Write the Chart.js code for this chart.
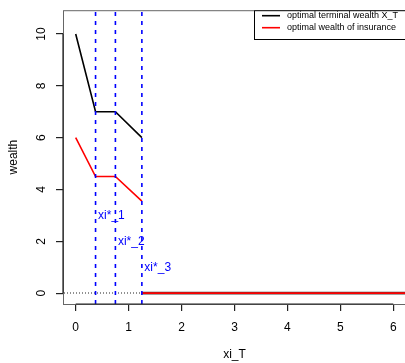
<!DOCTYPE html>
<html><head><meta charset="utf-8">
<script src="https://cdn.jsdelivr.net/npm/chart.js@4"></script>
<style>
html,body{margin:0;padding:0;overflow:hidden;background:#fff;width:405px;height:363px}
#wrap{position:relative;width:408px;height:363px}
canvas{display:block}
</style></head>
<body><div id="wrap"><canvas id="c" width="408" height="363"></canvas></div>
<script>
// ---- data ----
const xiBreaks = [0.375, 0.75, 1.25];
const breakLabels = ['xi*_1', 'xi*_2', 'xi*_3'];
const breakLabelY = [3, 2, 1];
const xiPoints = [0, 0.375, 0.75, 1.25];
const terminalWealth = [10, 7, 7, 6];
const insuranceWealth = [6, 4.5, 4.5, 3.55];
const zeroX = [1.25, 6.24];
const zeroWealth = [0, 0];
const hLineValue = 0;
const xTicks = [0, 1, 2, 3, 4, 5, 6];
const yTicks = [0, 2, 4, 6, 8, 10];
const seriesNames = ['optimal terminal wealth X_T', 'optimal wealth of insurance'];
const seriesColors = ['#000000', '#ff0000'];
const xTitle = 'xi_T';
const yTitle = 'wealth';
const xRange = [-0.24, 6.24];
const yRange = [-0.42, 10.92];

const FONT = '"Liberation Sans", Arial, Helvetica, sans-serif';
const pts = (xs, ys) => xs.map((x, i) => ({x: x, y: ys[i]}));

const datasets = [];
// red series
datasets.push({label: seriesNames[1], data: pts(xiPoints, insuranceWealth),
  borderColor: seriesColors[1], borderWidth: 1.6, pointRadius: 0, order: 1});
datasets.push({data: pts(zeroX, zeroWealth),
  borderColor: seriesColors[1], borderWidth: 1.8, pointRadius: 0, order: 1});
// black series
datasets.push({label: seriesNames[0], data: pts(xiPoints, terminalWealth),
  borderColor: seriesColors[0], borderWidth: 1.6, pointRadius: 0, order: 2});
datasets.push({data: pts(zeroX, zeroWealth),
  borderColor: '#444', borderWidth: 2.6, pointRadius: 0, order: 2});

const decor = {
  id: 'decor',
  beforeDatasetsDraw(chart) {
    // dotted horizontal reference line (drawn as dots)
    const ctx = chart.ctx, a = chart.chartArea;
    const ys = chart.scales.y;
    const py = Math.round(ys.getPixelForValue(hLineValue));
    ctx.save();
    ctx.fillStyle = '#222';
    for (let x = a.left + 1; x < a.right; x += 3) ctx.fillRect(x, py - 0.5, 1, 1);
    ctx.restore();
  },
  afterDatasetsDraw(chart) {
    const ctx = chart.ctx, a = chart.chartArea;
    const xs = chart.scales.x;
    ctx.save();
    ctx.fillStyle = '#0000ff';
    xiBreaks.forEach(b => {
      const px = xs.getPixelForValue(b);
      for (let y = a.bottom; y > a.top; y -= 9) {
        const top = Math.max(a.top, y - 4);
        ctx.fillRect(px - 0.8, top, 1.6, y - top);
      }
    });
    ctx.restore();
  },
  afterDraw(chart) {
    const ctx = chart.ctx, a = chart.chartArea;
    const xs = chart.scales.x, ys = chart.scales.y;
    ctx.save();
    // box
    ctx.strokeStyle = '#666'; ctx.lineWidth = 1;
    ctx.strokeRect(a.left + 0.5, a.top + 0.5, a.right - a.left - 1, a.bottom - a.top);
    // axis lines between first and last tick
    ctx.strokeStyle = '#222'; ctx.lineWidth = 1.2;
    ctx.beginPath();
    ctx.moveTo(xs.getPixelForValue(xTicks[0]), a.bottom);
    ctx.lineTo(xs.getPixelForValue(xTicks[xTicks.length - 1]), a.bottom);
    ctx.moveTo(a.left, ys.getPixelForValue(yTicks[0]));
    ctx.lineTo(a.left, ys.getPixelForValue(yTicks[yTicks.length - 1]));
    ctx.stroke();
    // y tick labels, rotated
    ctx.fillStyle = '#000';
    ctx.font = '12px ' + FONT;
    ctx.textAlign = 'center'; ctx.textBaseline = 'middle';
    yTicks.forEach(v => {
      ctx.save();
      ctx.translate(41.5, ys.getPixelForValue(v));
      ctx.rotate(-Math.PI / 2);
      ctx.fillText(String(v), 0, 0);
      ctx.restore();
    });
    // axis titles
    ctx.fillText(xTitle, (a.left + a.right) / 2, 355);
    ctx.save();
    ctx.translate(14, (a.top + a.bottom) / 2);
    ctx.rotate(-Math.PI / 2);
    ctx.fillText(yTitle, 0, 0);
    ctx.restore();
    // break labels
    ctx.fillStyle = '#0000ff';
    ctx.textAlign = 'left';
    xiBreaks.forEach((b, i) => {
      ctx.fillText(breakLabels[i], xs.getPixelForValue(b) + 2.5, ys.getPixelForValue(breakLabelY[i]));
    });
    // legend
    const lx = 254, ly = a.top, lr = a.right, lb = 39;
    ctx.fillStyle = '#fff';
    ctx.fillRect(lx, ly, lr - lx, lb - ly);
    ctx.strokeStyle = '#000'; ctx.lineWidth = 1;
    ctx.strokeRect(lx + 0.5, ly + 0.5, lr - lx - 1, lb - ly);
    ctx.font = '9px ' + FONT;
    ctx.textBaseline = 'middle';
    seriesNames.forEach((n, i) => {
      const y = 15.7 + i * 12;
      ctx.strokeStyle = seriesColors[i]; ctx.lineWidth = 1.6;
      ctx.beginPath(); ctx.moveTo(262, y); ctx.lineTo(280, y); ctx.stroke();
      ctx.fillStyle = '#000';
      ctx.fillText(n, 287, y);
    });
    ctx.restore();
  }
};

new Chart(document.getElementById('c'), {
  type: 'line',
  data: {datasets: datasets},
  options: {
    responsive: false, animation: false, devicePixelRatio: 1,
    layout: {padding: {top: 5, right: 2, left: 0, bottom: 0}},
    plugins: {legend: {display: false}, tooltip: {enabled: false}},
    scales: {
      x: {type: 'linear', min: xRange[0], max: xRange[1],
        afterFit: s => { s.height = 59; },
        afterBuildTicks: s => { s.ticks = xTicks.map(v => ({value: v})); },
        ticks: {font: {size: 12, family: FONT}, color: '#000', padding: 9, maxRotation: 0, autoSkip: false},
        grid: {display: true, drawOnChartArea: false, drawTicks: true, tickLength: 7, color: '#222', lineWidth: 1.2},
        border: {display: false}},
      y: {type: 'linear', min: yRange[0], max: yRange[1],
        afterFit: s => { s.width = 63; },
        afterBuildTicks: s => { s.ticks = yTicks.map(v => ({value: v})); },
        ticks: {color: 'rgba(0,0,0,0)', font: {size: 12, family: FONT}},
        grid: {display: true, drawOnChartArea: false, drawTicks: true, tickLength: 7, color: '#222', lineWidth: 1.2},
        border: {display: false}}
    }
  },
  plugins: [decor]
});
</script>
</body></html>
